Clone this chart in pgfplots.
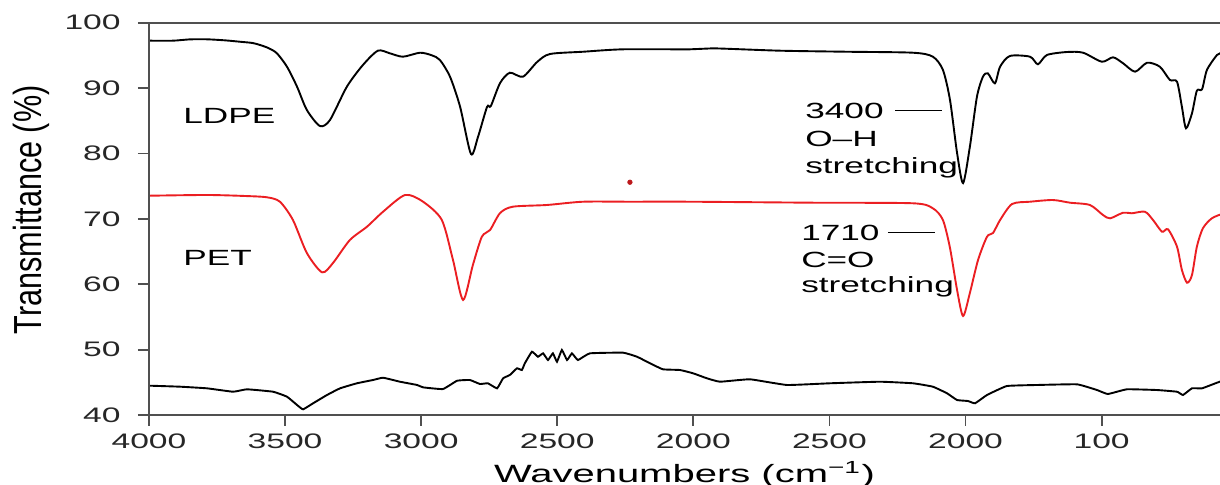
\documentclass[border=0pt]{standalone}
\usepackage{fontspec}
\setmainfont{Liberation Sans}
\usepackage{graphicx}
\usepackage{pgfplots}
\pgfplotsset{compat=1.18}
\definecolor{petred}{RGB}{235,30,34}
\definecolor{axgray}{RGB}{80,80,80}
% the source figure is stretched sideways, so the text is too
\newcommand{\W}[1]{\scalebox{1.6}[1]{#1}}
\begin{document}
\begin{tikzpicture}
\begin{axis}[
    scale only axis,
    width=535.5pt, height=196.15pt,
    x dir=reverse,
    xmin=65, xmax=4000, ymin=40, ymax=100,
    axis x line*=box, axis y line*=left,
    axis line style={axgray, line width=0.9pt},
    xtick={4000,3500,3000,2500,2000,1500,1000,500},
    xticklabels={\W{4000},\W{3500},\W{3000},\W{2500},\W{2000},\W{2500},\W{2000},\W{100}},
    ytick={40,50,60,70,80,90,100},
    yticklabels={\W{40},\W{50},\W{60},\W{70},\W{80},\W{90},\W{100}},
    xtick pos=left, ytick pos=left,
    tick align=outside, major tick length=5.5pt,
    every tick/.style={axgray, line width=0.9pt},
    tick label style={font=\fontsize{10.5}{12}\selectfont, text=black!85},
    xticklabel style={anchor=north, inner sep=0pt, yshift=-3.5pt},
    yticklabel style={anchor=east, inner sep=0pt, xshift=-8.5pt},
    xlabel={\W{Wavenumbers (cm\textsuperscript{\char"2212 1})}},
    xlabel style={font=\fontsize{12.5}{14}\selectfont, at={(axis description cs:0.5,-0.1708)}, anchor=base},
    ylabel={\fontsize{15.3}{17}\selectfont\scalebox{1}[1.28]{Transmittance (\%)}},
    ylabel style={at={(axis description cs:-0.1102,0.523)}, anchor=center},
    every axis plot/.append style={smooth, tension=0.45},
]
% LDPE
\addplot[black, line width=0.95pt] coordinates {
(3996,97.25) (3912,97.25) (3850,97.45) (3787,97.46) (3720,97.30) (3666,97.09)
(3620,96.90) (3592,96.59) (3560,96.10) (3530,95.32)
(3493,93.27) (3456,90.21) (3420,86.65) (3372,84.20) (3335,85.12) (3273,90.21)
(3214,93.53) (3159,95.72) (3115,95.32) (3067,94.80) (3004,95.41) (2960,95.00) (2931,94.29)
(2894,91.74) (2857,87.15) (2817,79.92) (2791,82.56) (2758,87.11) (2744,87.26)
(2710,90.78) (2674,92.35) (2626,91.74) (2574,93.99) (2527,95.21) (2405,95.56)
(2258,95.93) (2012,95.93) (1928,96.08) (1682,95.72) (1436,95.56) (1193,95.41)
(1120,94.80) (1083,92.77) (1057,88.18) (1031,80.07) (1009,75.48) (984,81.03)
(958,88.68) (936,91.74) (918,92.26) (892,90.73) (873,93.27) (837,94.91)
(763,94.80) (734,93.64) (701,95.06) (627,95.52) (568,95.41) (499,94.03)
(458,94.71) (421,93.79) (377,92.51) (333,93.88) (286,93.27) (249,91.24)
(223,90.98) (205,87.15) (190,83.85) (168,86.14) (150,89.60) (131,89.81)
(113,92.77) (76,95.06) (58,95.37)
};
% PET
\addplot[petred, line width=0.95pt] coordinates {
(3996,73.54) (3787,73.65) (3650,73.50) (3567,73.30) (3519,72.62) (3471,69.82) (3420,64.78)
(3364,61.82) (3324,63.25) (3262,66.76) (3199,68.80) (3140,71.09) (3059,73.65)
(2993,72.62) (2924,69.82) (2883,63.70) (2846,57.59) (2810,62.94) (2777,67.27)
(2747,68.29) (2710,70.89) (2663,71.86) (2538,72.12) (2405,72.62) (2233,72.62)
(2012,72.62) (1560,72.47) (1193,72.38) (1120,71.61) (1083,69.82) (1057,65.54)
(1031,59.12) (1009,55.14) (984,58.66) (954,63.70) (921,67.27) (899,67.83)
(873,69.82) (829,72.27) (763,72.62) (679,72.88) (616,72.47) (543,72.12)
(495,70.59) (469,70.08) (421,70.94) (389,70.85) (341,71.09) (311,69.82)
(278,68.03) (256,68.40) (223,65.74) (205,62.18) (186,60.23) (168,61.41)
(150,65.74) (128,68.55) (95,70.08) (58,70.74)
};
% stray point
\addplot[only marks, mark=*, mark size=1.1pt, color=petred!80!black] coordinates {(2233,75.6)};
% bottom trace
\addplot[black, line width=0.95pt, tension=0.2] coordinates {
(3996,44.48) (3886,44.33) (3787,44.08) (3691,43.56) (3640,43.93) (3544,43.56)
(3493,42.80) (3456,41.53) (3434,40.87) (3397,41.79) (3346,43.06) (3298,44.08)
(3236,44.85) (3177,45.35) (3140,45.70) (3078,45.09) (3015,44.59) (2993,44.23)
(2920,43.97) (2868,45.24) (2821,45.35) (2784,44.74) (2755,44.85) (2721,44.08)
(2699,45.61) (2674,46.12) (2648,47.14) (2630,46.88) (2619,47.91) (2593,49.68)
(2571,48.91) (2552,49.43) (2534,48.41) (2516,49.43) (2501,48.15) (2483,49.94)
(2464,48.41) (2446,49.43) (2424,48.41) (2380,49.43) (2258,49.53) (2207,48.91)
(2159,47.91) (2112,46.99) (2049,46.88) (2001,46.38) (1950,45.61) (1902,45.09)
(1792,45.46) (1656,44.59) (1498,44.85) (1314,45.09) (1193,44.85) (1120,44.33)
(1068,43.32) (1031,42.29) (991,42.14) (965,41.79) (921,43.06) (848,44.43)
(737,44.59) (590,44.69) (517,43.82) (477,43.21) (407,43.93) (297,43.82)
(223,43.56) (201,43.06) (168,44.08) (131,44.08) (76,44.94) (58,45.20)
};
\coordinate (BL) at (axis cs:4000,40);
\begin{scope}[font=\fontsize{11}{13}\selectfont]
\node[anchor=base west, inner sep=0pt] at (axis cs:3875,84.51) {\W{LDPE}};
\node[anchor=base west, inner sep=0pt] at (axis cs:3875,62.94) {\W{PET}};
\node[anchor=base west, inner sep=0pt] at (axis cs:1590,85.42) {\W{3400}};
\node[anchor=base west, inner sep=0pt] at (axis cs:1590,80.99) {\W{O–H}};
\node[anchor=base west, inner sep=0pt] at (axis cs:1590,77.01) {\W{stretching}};
\node[anchor=base west, inner sep=0pt] at (axis cs:1605,66.76) {\W{1710}};
\node[anchor=base west, inner sep=0pt] at (axis cs:1605,62.63) {\W{C=O}};
\node[anchor=base west, inner sep=0pt] at (axis cs:1605,58.81) {\W{stretching}};
\end{scope}
\draw[black, line width=0.5pt] (axis cs:1259,86.54) -- (axis cs:1087,86.54);
\draw[black, line width=0.5pt] (axis cs:1285,67.88) -- (axis cs:1112,67.88);
\end{axis}
\pgfresetboundingbox
\path[use as bounding box] (BL) ++(-74.5pt,-35pt) rectangle ++(610pt,242.5pt);
\end{tikzpicture}
\end{document}
